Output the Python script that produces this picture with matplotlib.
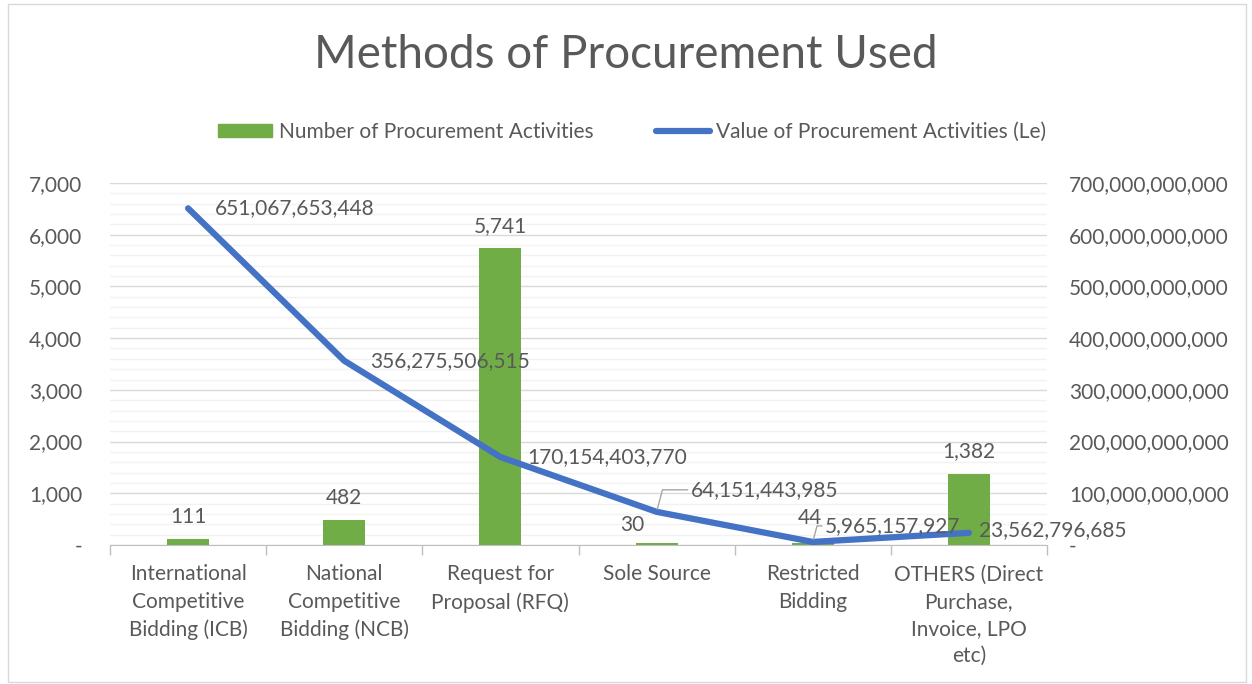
import matplotlib.pyplot as plt
from matplotlib.patches import Rectangle
from matplotlib.lines import Line2D
from matplotlib.ticker import FuncFormatter, MultipleLocator

plt.rcParams['font.family'] = ['Lato', 'DejaVu Sans']

# data
categories = ["International\nCompetitive\nBidding (ICB)", "National\nCompetitive\nBidding (NCB)",
              "Request for\nProposal (RFQ)", "Sole Source", "Restricted\nBidding",
              "OTHERS (Direct\nPurchase,\nInvoice, LPO\netc)"]
counts = [111, 482, 5741, 30, 44, 1382]
values = [651067653448, 356275506515, 170154403770, 64151443985, 5965157927, 23562796685]

# label offsets in pixels (dx, dy)
val_offsets = [(27, 0), (26, 0), (27, 0), (34, 22), (12, 16), (10, 3)]
bar_offsets = [(0, 12), (0, 12), (0, 12), (-24, 8), (-3, 15), (0, 12)]

text_col = '#595959'
green = '#70AD47'
blue = '#4472C4'
fs = 15

W, H = 1252, 684
fig = plt.figure(figsize=(W / 100, H / 100), dpi=100)

# chart border
fig.patches.append(Rectangle((8 / W, 2 / H), (W - 14) / W, (H - 6) / H, transform=fig.transFigure,
                             fill=False, edgecolor='#D9D9D9', linewidth=1))

ax = fig.add_axes([110 / W, (H - 545) / H, (1047 - 110) / W, (545 - 183) / H])
x = list(range(len(categories)))

ax.bar(x, counts, width=0.27, color=green, zorder=2)
ax.set_xlim(-0.5, len(categories) - 0.5)
ax.set_ylim(0, 7000)
ax.yaxis.set_major_locator(MultipleLocator(1000))
ax.yaxis.set_minor_locator(MultipleLocator(200))
ax.grid(axis='y', which='minor', color='#F2F2F2', linewidth=1, zorder=0)
ax.grid(axis='y', which='major', color='#D9D9D9', linewidth=1, zorder=0)
ax.set_axisbelow(True)

def left_fmt(v, pos):
    return '-' if v == 0 else f'{int(v):,}'

ax.yaxis.set_major_formatter(FuncFormatter(left_fmt))
ax.tick_params(axis='y', which='both', length=0, labelsize=fs, labelcolor=text_col, pad=20)

ax.set_xticks(x)
ax.set_xticklabels(categories, fontsize=fs, color=text_col, linespacing=1.45, va='top')
ax.tick_params(axis='x', which='major', length=0, pad=14)
ax.set_xticks([i + 0.5 for i in range(-1, len(categories))], minor=True)
ax.tick_params(axis='x', which='minor', length=7, color='#BFBFBF', width=1)

for s in ['top', 'right', 'left']:
    ax.spines[s].set_visible(False)
ax.spines['bottom'].set_color('#BFBFBF')

for xi, c, off in zip(x, counts, bar_offsets):
    ax.annotate(f'{c:,}', (xi, c), xytext=off, textcoords='offset pixels',
                ha='center', va='bottom', fontsize=fs, color=text_col)

ax2 = ax.twinx()
ax2.plot(x, values, color=blue, linewidth=4.5, solid_capstyle='round', solid_joinstyle='round', zorder=3)
ax2.set_ylim(0, 700e9)
ax2.yaxis.set_major_locator(MultipleLocator(100e9))

def right_fmt(v, pos):
    return '-' if v == 0 else f'{int(v):,}'

ax2.yaxis.set_major_formatter(FuncFormatter(right_fmt))
ax2.tick_params(axis='y', length=0, labelsize=fs, labelcolor=text_col, pad=16)
for s in ['top', 'right', 'left', 'bottom']:
    ax2.spines[s].set_visible(False)

for i, (xi, v) in enumerate(zip(x, values)):
    dx, dy = val_offsets[i]
    if i in (3, 4):
        ax2.annotate(f'{v:,}', (xi, v), xytext=(dx, dy), textcoords='offset pixels',
                     ha='left', va='center', fontsize=fs, color=text_col,
                     arrowprops=dict(arrowstyle='-', color='#A6A6A6', lw=1,
                                     connectionstyle='angle,angleA=0,angleB=75,rad=0',
                                     shrinkA=0, shrinkB=2))
    else:
        ax2.annotate(f'{v:,}', (xi, v), xytext=(dx, dy), textcoords='offset pixels',
                     ha='left', va='center', fontsize=fs, color=text_col)

fig.text(0.5, (H - 55) / H, 'Methods of Procurement Used', ha='center', va='center',
         fontsize=33, color=text_col)

handles = [Rectangle((0, 0), 1, 1, color=green),
           Line2D([], [], color=blue, linewidth=4.5, solid_capstyle='round')]
fig.legend(handles, ['Number of Procurement Activities', 'Value of Procurement Activities (Le)'],
           loc='center', bbox_to_anchor=(0.505, (H - 132) / H), ncol=2, frameon=False,
           fontsize=fs, labelcolor=text_col, handlelength=2.6, handleheight=0.6,
           columnspacing=3.0, handletextpad=0.3)

fig.savefig('out.png', dpi=100)
